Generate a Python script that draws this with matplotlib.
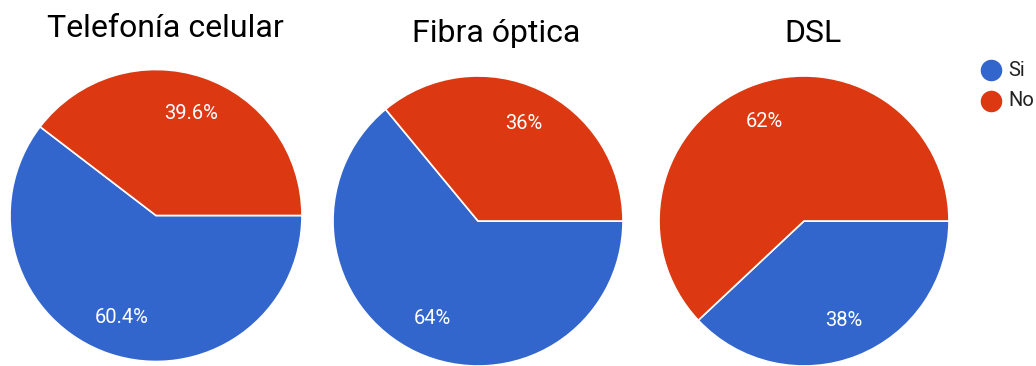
import matplotlib.pyplot as plt
from matplotlib.lines import Line2D

plt.rcParams['font.family'] = ['Roboto', 'DejaVu Sans']

titles = ['Telefonía celular', 'Fibra óptica', 'DSL']
categories = ['Si', 'No']
si_pct = [60.4, 64, 38]
no_pct = [39.6, 36, 62]
colors = ['#3366CC', '#DC3912']

W, H = 1036, 366
fig = plt.figure(figsize=(W / 100, H / 100), dpi=100)

# pie boxes in pixels: (center x, center y from top, radius)
boxes = [(156, 215.5, 146), (478, 221, 145), (804, 221, 145)]
title_pos = [(165, 37), (496, 42), (813, 42)]


def pct_fmt(p):
    return '{:g}%'.format(round(p, 1))


for i, title in enumerate(titles):
    cx, cy, r = boxes[i]
    ax = fig.add_axes([(cx - r) / W, (H - cy - r) / H, 2 * r / W, 2 * r / H])
    ax.pie([si_pct[i], no_pct[i]], colors=colors, startangle=0, counterclock=False,
           autopct=pct_fmt, pctdistance=0.74,
           wedgeprops=dict(edgecolor='white', linewidth=1.2),
           textprops=dict(color='white', fontsize=14.5))
    ax.set_xlim(-1, 1)
    ax.set_ylim(-1, 1)
    ax.set_aspect('equal')
    ax.axis('off')

    tx, ty = title_pos[i]
    fig.text(tx / W, 1 - ty / H, title, ha='center', va='baseline',
             fontsize=23, color='#000000')

# legend on the right
for j, name in enumerate(categories):
    y = 1 - (70 + 31 * j) / H
    fig.add_artist(Line2D([991 / W], [y], marker='o', markersize=14.5,
                          color=colors[j], transform=fig.transFigure))
    fig.text(1008 / W, y, name, ha='left', va='center', fontsize=14.5, color='#222222')

fig.savefig('out.png', dpi=100)
